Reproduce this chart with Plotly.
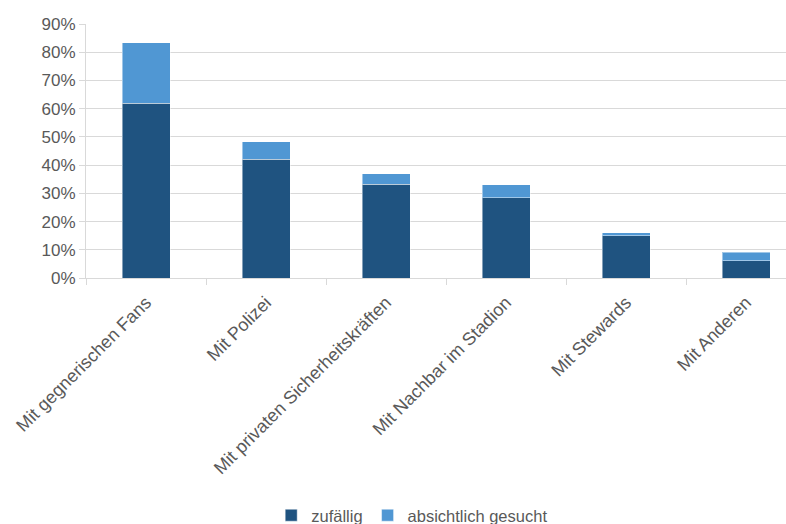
import plotly.graph_objects as go

categories = ["Mit gegnerischen Fans", "Mit Polizei", "Mit privaten Sicherheitskräften",
              "Mit Nachbar im Stadion", "Mit Stewards", "Mit Anderen"]
zufaellig = [0.62, 0.42, 0.333, 0.285, 0.150, 0.061]
absichtlich = [0.213, 0.062, 0.036, 0.046, 0.011, 0.031]
y_ticks = [0, 0.1, 0.2, 0.3, 0.4, 0.5, 0.6, 0.7, 0.8, 0.9]

fig = go.Figure()
fig.add_trace(go.Bar(x=categories, y=zufaellig, name="zufällig",
                     marker=dict(color="#1F5380", line=dict(color="rgba(255,255,255,0.45)", width=1)),
                     width=0.4))
fig.add_trace(go.Bar(x=categories, y=absichtlich, name="absichtlich gesucht",
                     marker=dict(color="#5097D3", line=dict(color="rgba(255,255,255,0.45)", width=1)),
                     width=0.4))

fig.update_layout(
    barmode="stack",
    width=786, height=524,
    margin=dict(l=86, r=0, t=24, b=246, autoexpand=False),
    plot_bgcolor="white", paper_bgcolor="white",
    font=dict(family="Liberation Sans", size=16, color="#595959"),
    showlegend=True,
    legend=dict(orientation="h", x=0.466, xanchor="center", y=-0.935, yanchor="middle",
                font=dict(size=16.5, color="#595959"), traceorder="normal", itemwidth=30),
    xaxis=dict(type="category", range=[-0.5, 5.333], tickangle=-45, automargin=False,
               ticks="outside", tickson="boundaries", ticklen=6, tickcolor="#d9d9d9",
               showline=True, linecolor="#d9d9d9", showgrid=False, ticklabelstandoff=6,
               tickfont=dict(size=18, color="#595959")),
    yaxis=dict(range=[0, 0.9], tickvals=y_ticks, tickformat=".0%", automargin=False,
               gridcolor="#d9d9d9", showline=True, linecolor="#d9d9d9",
               ticks="outside", ticklen=6, tickcolor="#d9d9d9", zeroline=False,
               tickfont=dict(size=17, color="#595959")),
)

fig.write_html("out.html", config={"displayModeBar": False},
               post_script="document.body.style.margin='0';document.body.style.overflow='hidden';")
